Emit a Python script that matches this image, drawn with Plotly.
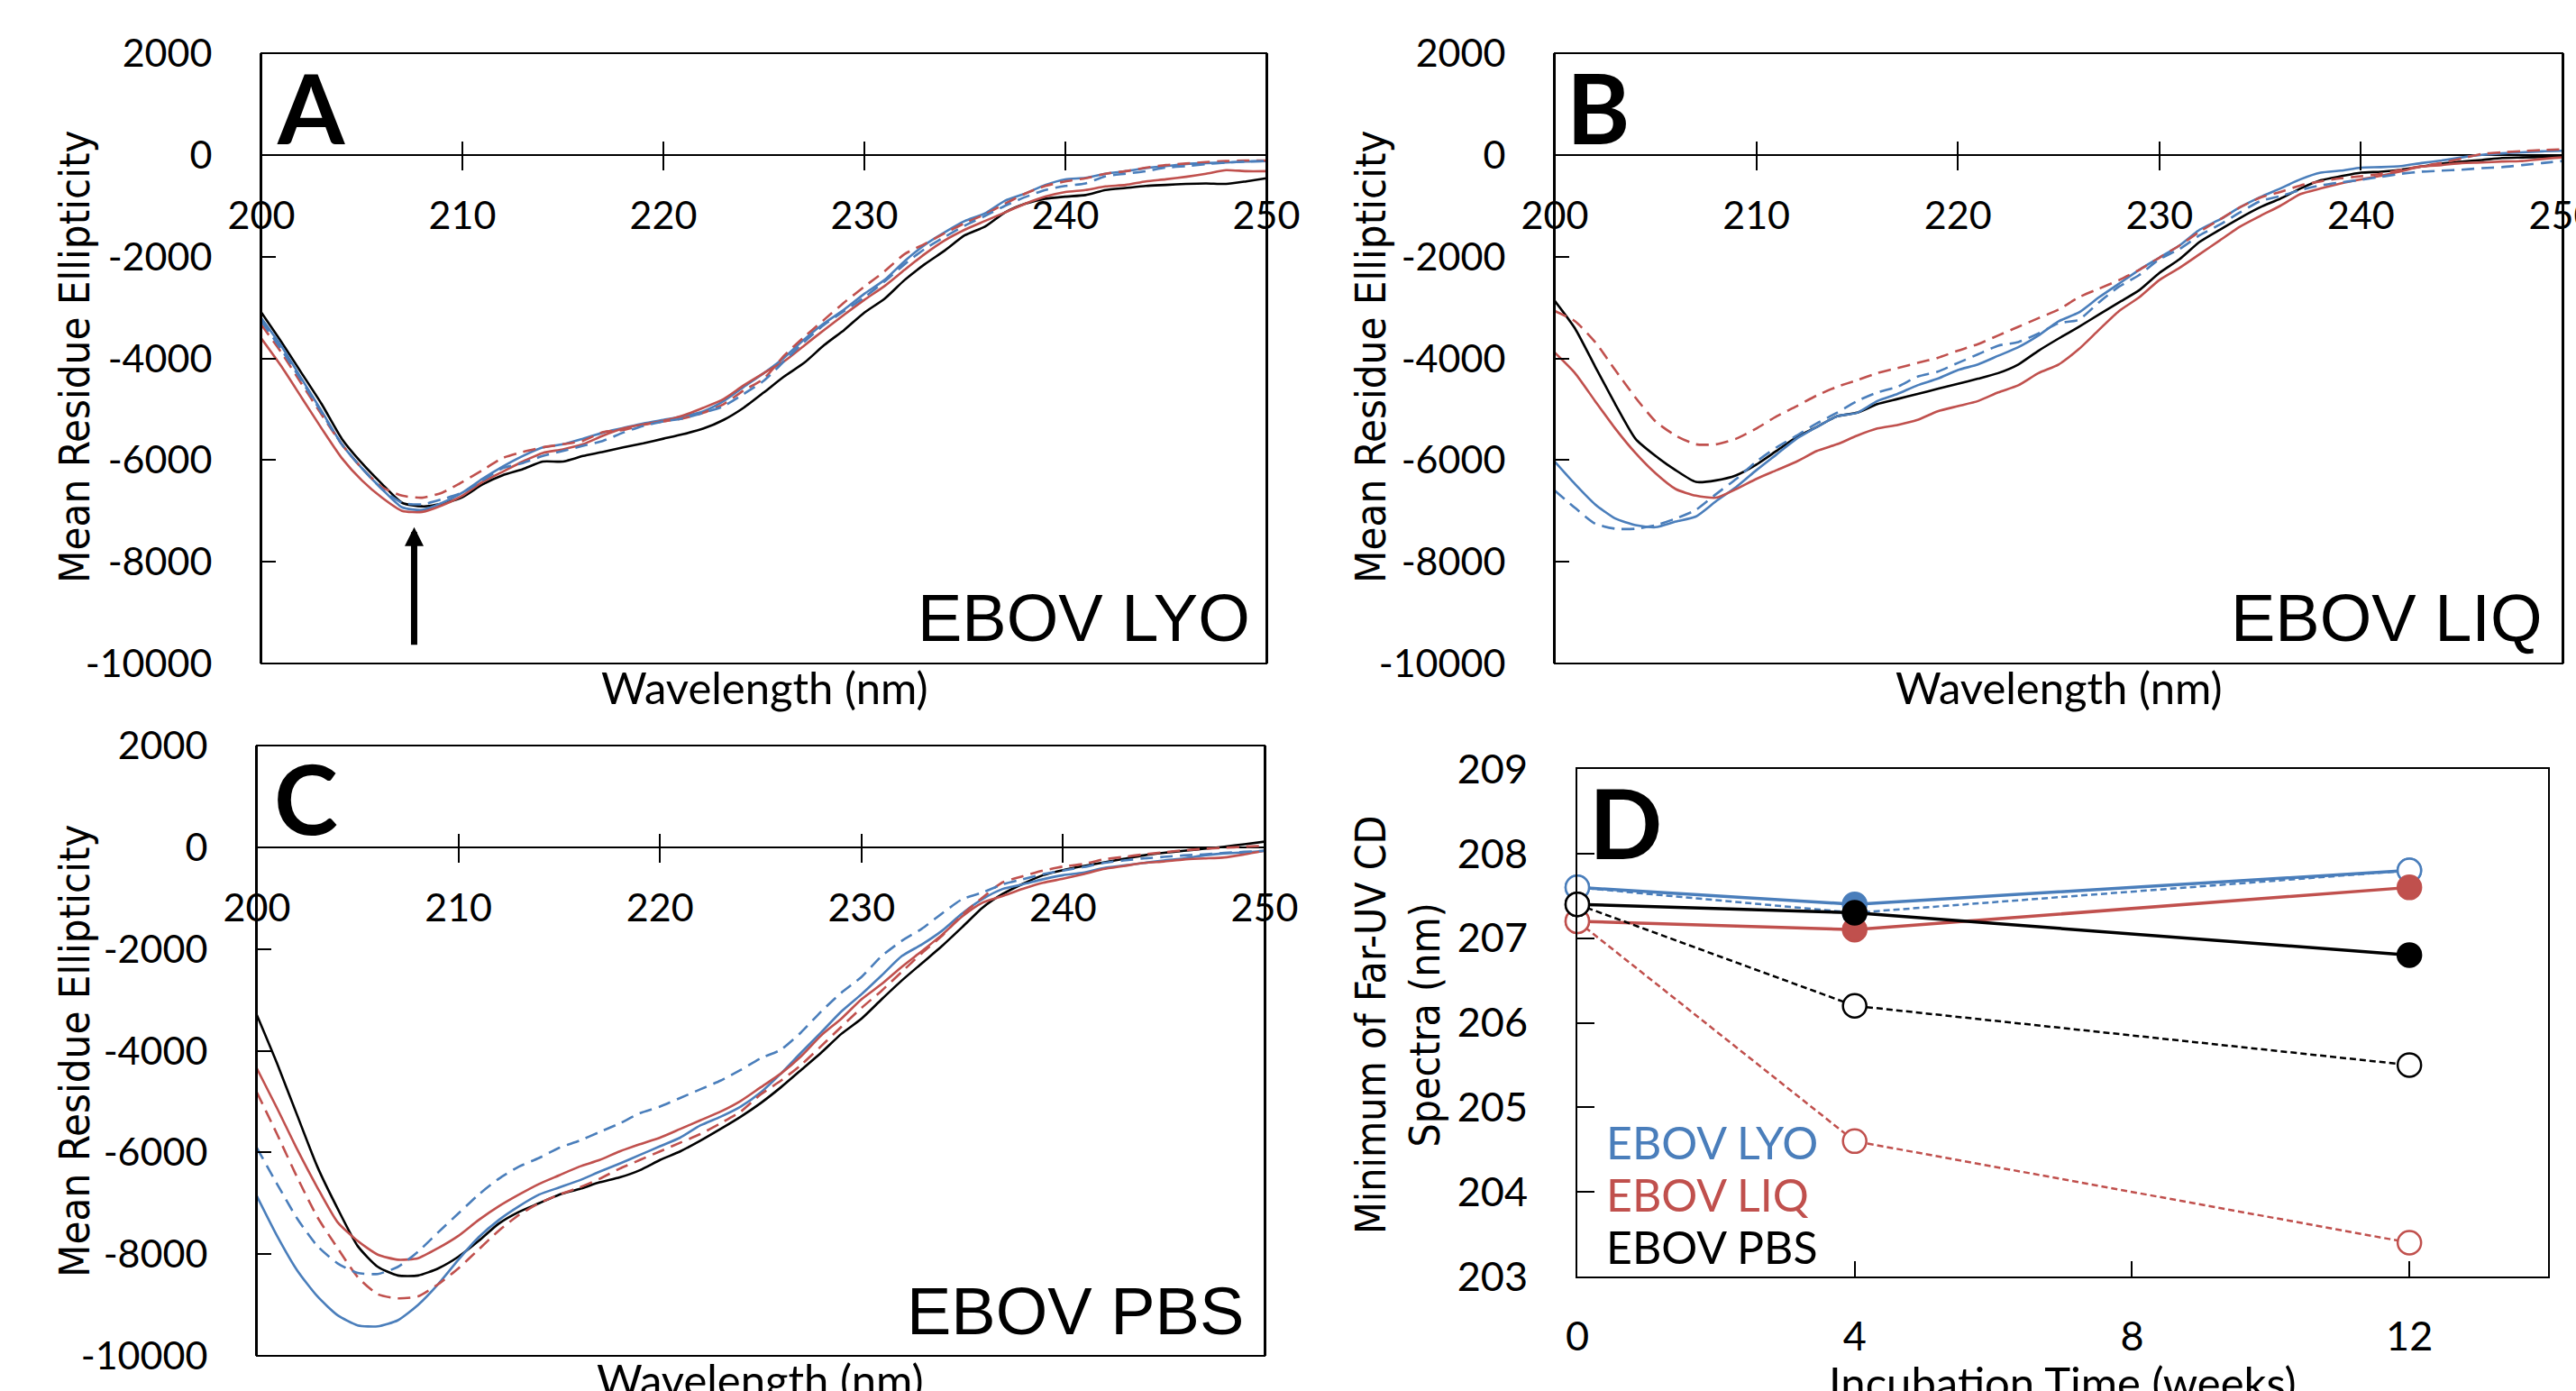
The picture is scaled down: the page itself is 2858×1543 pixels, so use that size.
import plotly.graph_objects as go

W, H = 2858, 1543

# ---------------- data ----------------
wavelength = list(range(200, 251))

A_black = [-3100,-3680,-4290,-4900,-5580,-6060,-6470,-6840,-6910,-6860,-6730,-6480,-6300,-6180,-6030,-6030,-5920,-5840,-5750,-5670,-5580,-5490,-5380,-5210,-4970,-4670,
           -4360,-4090,-3740,-3440,-3100,-2830,-2460,-2150,-1880,-1580,-1410,-1130,-960,-860,-820,-790,-690,-650,-610,-590,-570,-560,-570,-520,-460]
A_blue_solid = [-3210,-3760,-4400,-5040,-5690,-6160,-6570,-6930,-6980,-6840,-6640,-6370,-6130,-5920,-5750,-5690,-5580,-5460,-5370,-5280,-5210,-5140,-5040,-4840,-4560,-4290,
                -3990,-3630,-3310,-3040,-2730,-2460,-2090,-1770,-1520,-1300,-1150,-900,-760,-590,-480,-450,-370,-320,-260,-220,-180,-160,-150,-130,-120]
A_red_solid = [-3610,-4160,-4770,-5380,-5960,-6400,-6740,-7000,-7020,-6890,-6700,-6430,-6230,-6030,-5860,-5790,-5690,-5520,-5380,-5300,-5230,-5120,-4970,-4800,-4530,-4290,
               -4060,-3750,-3440,-3140,-2850,-2580,-2260,-1950,-1680,-1470,-1300,-1130,-960,-820,-730,-690,-620,-590,-520,-480,-430,-370,-300,-320,-320]
A_red_dash = [-3340,-3890,-4500,-5110,-5690,-6160,-6530,-6700,-6740,-6640,-6430,-6200,-5960,-5840,-5750,-5690,-5620,-5450,-5410,-5310,-5240,-5180,-5070,-4900,-4630,-4400,
              -3950,-3580,-3240,-2900,-2590,-2290,-1950,-1750,-1540,-1340,-1170,-960,-760,-610,-520,-460,-370,-320,-250,-200,-170,-140,-120,-110,-110]
A_blue_dash = [-3270,-3830,-4440,-5070,-5690,-6160,-6570,-6840,-6870,-6770,-6640,-6400,-6160,-6060,-5920,-5820,-5720,-5620,-5460,-5330,-5240,-5180,-5070,-4940,-4700,-4440,
               -4060,-3680,-3340,-3070,-2800,-2490,-2150,-1850,-1610,-1390,-1200,-1000,-830,-690,-610,-560,-420,-370,-320,-250,-220,-180,-150,-130,-120]

B_black = [-2870,-3410,-4160,-4900,-5580,-5920,-6200,-6430,-6400,-6300,-6090,-5820,-5550,-5350,-5140,-5070,-4900,-4800,-4700,-4600,-4500,-4400,-4290,-4120,-3850,-3610,
           -3380,-3140,-2900,-2660,-2320,-2050,-1710,-1470,-1240,-1030,-860,-660,-500,-420,-350,-330,-290,-230,-170,-130,-100,-60,-50,-40,-30]
B_red_solid = [-3890,-4290,-4840,-5380,-5860,-6260,-6570,-6700,-6740,-6570,-6370,-6200,-6030,-5820,-5690,-5520,-5380,-5310,-5210,-5040,-4940,-4840,-4670,-4530,-4290,-4120,
               -3820,-3440,-3070,-2800,-2460,-2220,-1950,-1680,-1410,-1200,-1000,-770,-660,-560,-480,-410,-320,-230,-200,-160,-150,-130,-120,-80,-50]
B_red_dash = [-3070,-3270,-3680,-4230,-4770,-5240,-5520,-5690,-5690,-5580,-5380,-5140,-4940,-4730,-4560,-4430,-4290,-4190,-4090,-3990,-3850,-3720,-3550,-3380,-3210,-3040,
              -2800,-2630,-2460,-2260,-2020,-1780,-1510,-1270,-1030,-840,-730,-600,-520,-460,-420,-370,-290,-220,-160,-70,20,50,75,95,110]
B_blue_solid = [-6030,-6470,-6870,-7150,-7280,-7320,-7210,-7110,-6810,-6530,-6200,-5890,-5580,-5350,-5140,-5070,-4840,-4700,-4530,-4400,-4230,-4120,-3950,-3780,-3550,-3270,
                -3100,-2800,-2530,-2260,-2020,-1780,-1470,-1270,-1030,-830,-660,-480,-350,-310,-250,-240,-220,-160,-110,-50,0,30,50,70,80]
B_blue_dash = [-6600,-6940,-7250,-7350,-7350,-7280,-7150,-6980,-6670,-6370,-6030,-5750,-5520,-5280,-5070,-4840,-4670,-4560,-4360,-4260,-4090,-3920,-3750,-3680,-3510,-3310,
               -3240,-2900,-2590,-2360,-2050,-1850,-1580,-1370,-1130,-910,-810,-690,-600,-540,-490,-430,-370,-330,-310,-290,-260,-240,-200,-160,-120]

C_black = [-3300,-4250,-5270,-6280,-7100,-7840,-8250,-8420,-8420,-8280,-8050,-7740,-7400,-7170,-7000,-6830,-6720,-6590,-6490,-6350,-6150,-5980,-5770,-5540,-5300,-5030,
           -4720,-4380,-4040,-3670,-3370,-2990,-2620,-2280,-1940,-1570,-1190,-920,-720,-550,-450,-370,-300,-230,-160,-110,-70,-30,10,60,110]
C_red_solid = [-4350,-5130,-5940,-6690,-7370,-7740,-8010,-8110,-8080,-7880,-7640,-7330,-7060,-6830,-6620,-6450,-6280,-6150,-5980,-5840,-5710,-5540,-5370,-5200,-4990,-4720,
               -4450,-4110,-3700,-3370,-2990,-2690,-2350,-2040,-1720,-1360,-1090,-960,-820,-700,-620,-530,-430,-370,-310,-280,-240,-220,-200,-140,-70]
C_red_dash = [-4820,-5640,-6490,-7270,-7880,-8450,-8790,-8870,-8830,-8590,-8280,-7910,-7540,-7230,-7000,-6830,-6690,-6520,-6320,-6150,-5980,-5810,-5640,-5430,-5200,-4860,
              -4590,-4280,-3910,-3530,-3160,-2820,-2450,-2080,-1740,-1330,-990,-690,-570,-460,-380,-330,-240,-190,-140,-100,-60,-30,-10,10,30]
C_blue_dash = [-5910,-6620,-7300,-7840,-8180,-8370,-8390,-8250,-7950,-7570,-7200,-6830,-6520,-6280,-6110,-5910,-5770,-5600,-5430,-5230,-5100,-4930,-4760,-4590,-4380,-4150,
               -3980,-3640,-3230,-2860,-2550,-2140,-1840,-1600,-1300,-1020,-890,-730,-630,-530,-460,-390,-310,-260,-220,-190,-160,-140,-110,-90,-70]
C_blue_solid = [-6860,-7640,-8320,-8830,-9200,-9400,-9420,-9300,-9000,-8590,-8110,-7670,-7330,-7060,-6830,-6690,-6550,-6380,-6220,-6050,-5880,-5710,-5470,-5300,-5100,-4820,
                -4450,-4040,-3640,-3230,-2890,-2520,-2140,-1910,-1640,-1300,-1020,-820,-730,-630,-550,-500,-410,-360,-310,-260,-220,-160,-120,-100,-70]

weeks = [0, 4, 12]
D_lyo_solid = [207.6, 207.4, 207.8]
D_lyo_dash = [207.6, 207.3, 207.8]
D_liq_solid = [207.2, 207.1, 207.6]
D_liq_dash = [207.2, 204.6, 203.4]
D_pbs_solid = [207.4, 207.3, 206.8]
D_pbs_dash = [207.4, 206.2, 205.5]

cd_yticks = [-10000, -8000, -6000, -4000, -2000, 0, 2000]
cd_yticktext = ["-10000", "-8000", "-6000", "-4000", "-2000", "0", "2000"]
cd_xticks = [200, 210, 220, 230, 240, 250]
d_yticks = [203, 204, 205, 206, 207, 208, 209]
d_xticks = [0, 4, 8, 12]

# ---------------- style ----------------
BLUE = "#4A7EBB"
RED = "#C0504D"
BLACK = "#000000"
TICKFONT = "Lato"
TITLEFONT = "DejaVu Sans Condensed, DejaVu Sans"
LABELFONT = "Liberation Sans"

# panel boxes in pixels (left, top, right, bottom)
boxes = {
    "A": (290, 59, 1405, 736),
    "B": (1725, 59, 2843, 736),
    "C": (285, 827, 1403, 1504),
    "D": (1750, 853, 2827, 1416),
}


def xd(b):
    return [b[0] / W, b[2] / W]


def yd(b):
    return [1 - b[3] / H, 1 - b[1] / H]


fig = go.Figure()

panels = [
    ("A", "x", "y", [A_black, A_blue_solid, A_red_solid, A_red_dash, A_blue_dash]),
    ("B", "x2", "y2", [B_black, B_blue_solid, B_red_solid, B_red_dash, B_blue_dash]),
    ("C", "x3", "y3", [C_black, C_blue_solid, C_red_solid, C_red_dash, C_blue_dash]),
]
series_style = [
    ("black solid", BLACK, "solid"),
    ("blue solid", BLUE, "solid"),
    ("red solid", RED, "solid"),
    ("red dashed", RED, "14px,8px"),
    ("blue dashed", BLUE, "14px,8px"),
]

for name, xa, ya, series in panels:
    for (lab, col, dash), vals in zip(series_style, series):
        fig.add_trace(go.Scatter(
            x=wavelength, y=vals, mode="lines", name=f"{name} {lab}",
            line=dict(color=col, width=2.6, dash=dash, shape="spline", smoothing=0.6),
            xaxis=xa, yaxis=ya, showlegend=False, hoverinfo="skip"))

# Panel D
d_series = [
    (D_lyo_solid, BLUE, "solid", 3.5, True),
    (D_lyo_dash, BLUE, "7px,4px", 2.5, False),
    (D_liq_solid, RED, "solid", 3.5, True),
    (D_liq_dash, RED, "7px,4px", 2.5, False),
    (D_pbs_solid, BLACK, "solid", 3.5, True),
    (D_pbs_dash, BLACK, "7px,4px", 2.5, False),
]
for vals, col, dash, lw, filled in d_series:
    fills = ["white"] + ([col, col] if filled else ["white", "white"])
    fig.add_trace(go.Scatter(
        x=weeks, y=vals, mode="lines+markers", xaxis="x4", yaxis="y4",
        line=dict(color=col, width=lw, dash=dash),
        marker=dict(symbol="circle", size=26, color=fills, line=dict(color=col, width=2.5)),
        cliponaxis=False, showlegend=False, hoverinfo="skip"))

layout = dict(
    template="none",
    width=W, height=H, margin=dict(l=0, r=0, t=0, b=0, pad=0, autoexpand=False),
    paper_bgcolor="white", plot_bgcolor="white", showlegend=False,
    font=dict(family=TICKFONT, color="black", size=43),
)

shapes = []
cd_axes = [("A", ""), ("B", "2"), ("C", "3")]
for name, k in cd_axes:
    b = boxes[name]
    ymin, ymax = -10000, 2000
    zero_px = b[1] + (ymax - 0) / (ymax - ymin) * (b[3] - b[1])
    tick_half = 16
    layout["yaxis" + k] = dict(
        domain=yd(b), anchor="x" + k, range=[ymin, ymax], automargin=False,
        showline=True, mirror=True, linecolor="black", linewidth=2,
        ticks="inside", ticklen=16, tickwidth=2, tickcolor="black",
        tickvals=cd_yticks, ticktext=cd_yticktext, ticklabelstandoff=44,
        tickfont=dict(family=TICKFONT, size=43),
        showgrid=False, zeroline=True, zerolinecolor="black", zerolinewidth=2,
    )
    layout["xaxis" + k] = dict(
        domain=xd(b), anchor="free", position=1 - (zero_px - tick_half) / H,
        range=[200, 250], showline=False, showgrid=False, zeroline=False, automargin=False,
        ticks="outside", ticklen=2 * tick_half, tickwidth=2, tickcolor="black",
        tickvals=cd_xticks, ticktext=[str(v) for v in cd_xticks],
        ticklabelstandoff=14, ticklabeloverflow="allow",
        tickfont=dict(family=TICKFONT, size=43),
    )
    shapes.append(dict(type="rect", xref=f"x{k} domain", yref=f"y{k} domain",
                       x0=0, x1=1, y0=0, y1=1, line=dict(color="black", width=2),
                       fillcolor="rgba(0,0,0,0)", layer="above"))

bD = boxes["D"]
layout["xaxis4"] = dict(
    domain=xd(bD), anchor="y4", range=[0, 14], automargin=False,
    showline=True, mirror=True, linecolor="black", linewidth=2,
    ticks="inside", ticklen=17, tickwidth=2, tickcolor="black",
    tickvals=d_xticks, ticktext=[str(v) for v in d_xticks], ticklabelstandoff=26,
    tickfont=dict(family=TICKFONT, size=45), showgrid=False, zeroline=False,
)
layout["yaxis4"] = dict(
    domain=yd(bD), anchor="x4", range=[203, 209], automargin=False,
    showline=True, mirror=True, linecolor="black", linewidth=2,
    ticks="inside", ticklen=19, tickwidth=2, tickcolor="black",
    tickvals=d_yticks, ticktext=[str(v) for v in d_yticks], ticklabelstandoff=44,
    tickfont=dict(family=TICKFONT, size=45), showgrid=False, zeroline=False,
)

fig.update_layout(**layout)


def P(px, py):
    return px / W, 1 - py / H


ann = []


def text(s, px, py, size, family, color="black", xanchor="center", yanchor="middle", angle=0, bold=False):
    x, y = P(px, py)
    ann.append(dict(text=s, x=x, y=y, xref="paper", yref="paper", showarrow=False,
                    xanchor=xanchor, yanchor=yanchor, textangle=angle,
                    font=dict(size=size, family=family, color=color,
                              weight="bold" if bold else "normal")))


# panel letters
text("A", 305, 118, 107, TICKFONT, xanchor="left", bold=True)
text("B", 1736, 118, 107, TICKFONT, xanchor="left", bold=True)
text("C", 302, 884, 107, TICKFONT, xanchor="left", bold=True)
text("D", 1761, 911, 107, TICKFONT, xanchor="left", bold=True)

# panel names
text("EBOV LYO", 1389, 686, 74, LABELFONT, xanchor="right")
text("EBOV LIQ", 2822, 686, 74, LABELFONT, xanchor="right")
text("EBOV PBS", 1382, 1454, 74, LABELFONT, xanchor="right")

# axis titles
text("Wavelength (nm)", 848, 762, 49, TICKFONT)
text("Wavelength (nm)", 2284, 762, 49, TICKFONT)
text("Wavelength (nm)", 844, 1530, 49, TICKFONT)
text("Incubation Time (weeks)", 2288, 1533, 49, TICKFONT)
text("Mean Residue Ellipticity", 82, 396, 47, TITLEFONT, angle=-90)
text("Mean Residue Ellipticity", 1520, 396, 47, TITLEFONT, angle=-90)
text("Mean Residue Ellipticity", 82, 1166, 47, TITLEFONT, angle=-90)
text("Minimum of Far-UV CD<br>Spectra (nm)", 1551, 1137, 46, TITLEFONT, angle=-90)

# legend texts in D
text("EBOV LYO", 1780, 1267, 50, TICKFONT, color=BLUE, xanchor="left")
text("EBOV LIQ", 1780, 1325, 50, TICKFONT, color=RED, xanchor="left")
text("EBOV PBS", 1780, 1383, 50, TICKFONT, color=BLACK, xanchor="left")

# arrow in panel A pointing at the minimum
ann.append(dict(x=207.6, y=-7320, ax=207.6, ay=-9660, xref="x", yref="y", axref="x", ayref="y",
                text="", showarrow=True, arrowhead=2, arrowsize=0.6, arrowwidth=7,
                arrowcolor="black", standoff=0))

fig.update_layout(annotations=ann, shapes=shapes)

fig.write_html(
    "out.html",
    config={"displayModeBar": False},
    post_script="document.body.style.margin='0';document.body.style.overflow='hidden';",
)
